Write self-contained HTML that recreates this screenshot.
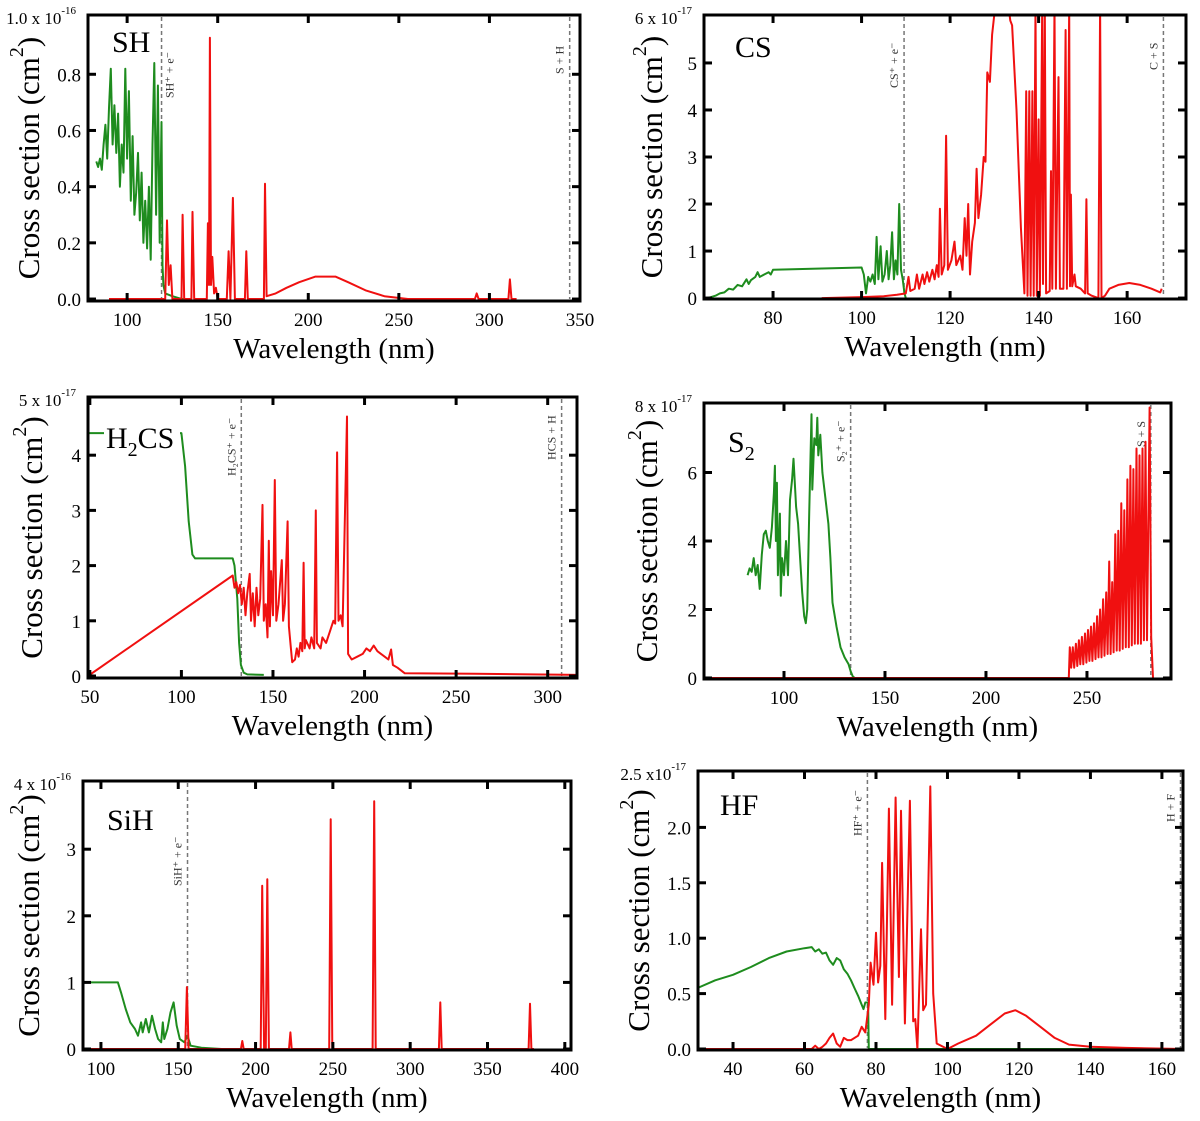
<!DOCTYPE html>
<html><head><meta charset="utf-8"><style>
html,body{margin:0;padding:0;background:#fff;}
svg{display:block;font-family:"Liberation Serif",serif;}
</style></head>
<body>
<svg id="fig" width="1200" height="1121" viewBox="0 0 1200 1121" xmlns="http://www.w3.org/2000/svg">
<defs id="defs"></defs>
</svg>
<script>
// ---------- data (wavelength nm, cross section) ----------
const shXTicks=[100,150,200,250,300,350];
const shYTicks=[0,0.2,0.4,0.6,0.8];
const shYLabels=["0.0","0.2","0.4","0.6","0.8"];
const shGreen=[[83,0.49],[84,0.47],[85,0.5],[86,0.46],[87,0.55],[88,0.62],[89,0.5],[90,0.68],[91,0.82],[92,0.55],[93,0.69],[94,0.52],[95,0.66],[96,0.4],[97,0.55],[98,0.45],[99,0.82],[100,0.5],[101,0.74],[102,0.35],[103,0.58],[104,0.3],[105,0.38],[106,0.52],[107,0.28],[108,0.45],[109,0.2],[110,0.35],[111,0.18],[112,0.4],[113,0.14],[114,0.55],[115,0.84],[116,0.3],[117,0.76],[118,0.2],[119,0.63],[119.5,0.12],[120,0.05],[121,0.02],[125,0.01],[130,0],[135,0]];
const shRed=[[90,0],[121,0],[122,0.28],[123,0.05],[124,0.12],[125,0],[130,0],[130.6,0.3],[131.5,0],[135.5,0],[136.1,0.31],[137,0],[144,0],[144.6,0.27],[145.2,0.05],[145.7,0.93],[146.3,0.05],[147,0.15],[148,0.02],[149,0.04],[150,0],[155,0],[156,0.17],[157,0],[158.4,0.36],[159.5,0],[165,0],[165.8,0.17],[166.6,0],[175.5,0],[176.1,0.41],[177,0.01],[182,0.02],[188,0.04],[195,0.06],[204,0.08],[215,0.08],[222,0.06],[232,0.03],[242,0.01],[255,0],[292,0],[293,0.02],[294,0],[310.5,0],[311.3,0.07],[312.2,0],[315,0]];

const csXTicks=[80,100,120,140,160];
const csYTicks=[0,1,2,3,4,5];
const csYLabels=["0","1","2","3","4","5"];
const csGreen=[[65,0],[66,0.02],[67,0.05],[68,0.1],[69,0.12],[70,0.2],[71,0.18],[72,0.28],[73,0.25],[74,0.4],[74.5,0.3],[75,0.38],[76,0.45],[76.5,0.55],[77,0.45],[78,0.5],[79,0.55],[79.5,0.5],[80,0.6],[100,0.65],[100.5,0.5],[101,0.1],[101.5,0.45],[102,0.35],[102.5,0.5],[103,0.3],[103.4,1.3],[103.8,0.4],[104.3,1.1],[104.7,0.35],[105.2,0.5],[105.7,1.0],[106.1,0.4],[106.5,0.7],[106.9,1.4],[107.3,0.4],[107.7,0.8],[108.1,0.5],[108.5,2.0],[108.9,0.6],[109.3,0.4],[109.7,0.1],[110,0]];
const csRed=[[91,0],[100,0.02],[105,0.04],[108,0.07],[110,0.1],[110.6,0.45],[111,0.15],[112,0.2],[112.5,0.5],[113,0.2],[113.8,0.5],[114.2,0.3],[114.8,0.55],[115.3,0.35],[116,0.6],[116.5,0.4],[117,0.7],[117.4,0.45],[117.7,1.9],[118.1,0.5],[118.7,0.7],[119.1,3.45],[119.5,0.6],[120.3,0.8],[121,1.2],[121.4,0.7],[122.3,0.9],[122.8,0.6],[123.3,1.7],[123.7,0.9],[124.1,2.0],[124.5,0.5],[125,1.2],[125.6,1.6],[126,2.75],[126.4,1.7],[127,2.2],[127.6,3.0],[128,2.9],[128.4,4.8],[129,4.6],[129.5,5.6],[130.2,6.2],[133.2,6.2],[133.6,5.9],[134,5.8],[135,4.0],[136,1.5],[136.8,0.1],[137.2,4.4],[137.5,0.05],[137.9,4.4],[138.2,0.05],[138.6,4.4],[138.9,0.05],[139.3,6.2],[139.6,0.05],[140,3.8],[140.3,0.05],[140.8,6.2],[141,0.3],[141.4,6.2],[141.7,0.1],[142.5,0.15],[142.8,2.7],[143.1,0.2],[143.6,6.2],[143.9,0.2],[144.5,4.7],[144.8,0.2],[145.6,0.2],[146.1,5.7],[146.4,0.2],[146.9,6.2],[147.1,0.25],[147.3,2.2],[147.6,0.25],[148.1,0.5],[148.4,0.25],[149.5,0.2],[150.5,0.1],[150.8,2.1],[151.1,0.1],[152,0.05],[153.5,0],[153.9,6.2],[154.2,0],[155,0.05],[156,0.2],[158,0.28],[160.5,0.32],[163,0.28],[165.5,0.2],[167.5,0.12],[167.8,0.2]];

const h2XTicks=[50,100,150,200,250,300];
const h2YTicks=[0,1,2,3,4];
const h2YLabels=["0","1","2","3","4"];
const h2Green=[[49,4.4],[100,4.4],[102,3.8],[104,2.8],[106,2.2],[107.5,2.13],[128,2.13],[129,2.0],[130.5,1.4],[131.5,0.6],[132.5,0.2],[134,0.06],[136,0.03],[145,0.02]];
const h2Red=[[49,0],[128,1.82],[129,1.6],[130,1.7],[131,1.5],[132,1.65],[133,1.3],[134,1.6],[135,1.1],[136,1.5],[137.3,1.85],[138,1.0],[139,1.5],[140,0.9],[141,1.6],[142,1.1],[143,1.4],[144.3,3.1],[145,1.0],[146,1.3],[147,0.7],[147.7,2.45],[148.3,0.9],[149,1.9],[150,1.1],[151,3.55],[151.8,1.0],[153,1.3],[154.8,2.1],[155.5,1.0],[156.5,1.3],[158,2.8],[158.7,0.9],[159.5,0.6],[160.5,0.25],[162,0.3],[163,0.5],[164,0.35],[165,0.6],[166,0.45],[166.7,2.05],[167.3,0.5],[168,0.65],[170,0.5],[171,0.7],[172.5,0.5],[173.4,3.0],[174,0.6],[176,0.5],[177,0.7],[179,0.6],[181,0.8],[183,1.0],[184,0.95],[185,4.05],[185.8,1.0],[187,1.1],[188,0.9],[190.4,4.7],[191,0.4],[193,0.3],[196,0.35],[199,0.4],[201,0.5],[203,0.45],[205,0.55],[207,0.45],[209,0.4],[211,0.35],[213,0.3],[214.5,0.48],[215.5,0.2],[218,0.15],[222,0.05],[260,0.04],[316,0.02]];

const s2XTicks=[100,150,200,250];
const s2YTicks=[0,2,4,6];
const s2YLabels=["0","2","4","6"];
const s2Green=[[82,3.0],[83,3.2],[84,3.1],[85,3.5],[86,3.0],[87,3.3],[88,2.6],[89,3.6],[90,4.2],[91,4.3],[92,4.0],[93,3.8],[94,4.4],[95,5.4],[95.5,6.2],[96,4.0],[96.5,5.7],[97,3.0],[98,4.8],[98.4,2.4],[99,3.5],[100,3.0],[101,4.0],[102,3.0],[103,5.2],[104,5.8],[104.7,6.4],[106,5.0],[107,4.5],[108,3.5],[109,2.5],[110,1.8],[110.8,1.6],[111.5,2.0],[112.5,4.8],[113.6,7.7],[114,5.5],[115,7.0],[116,6.8],[116.5,7.6],[117,6.5],[118,7.1],[119,6.0],[120,5.5],[121,5.0],[122,4.5],[123,3.5],[124,2.2],[126,1.5],[128,0.9],[130,0.6],[132,0.4],[133,0.2],[134,0.05],[135,0]];
const s2Red=[[60,0],[241,0],[241.5,0.9],[242.2,0.3],[243,0.9],[243.7,0.3],[244.5,1.0],[245.2,0.35],[246,1.1],[246.7,0.4],[247.5,1.2],[248.2,0.4],[249,1.3],[249.7,0.45],[250.5,1.4],[251.2,0.5],[252,1.5],[252.7,0.5],[253.5,1.6],[254.2,0.55],[255,1.8],[255.7,0.6],[256.5,2.0],[257.2,0.6],[258,2.3],[258.7,0.65],[259.5,2.5],[260.2,0.7],[261,3.4],[261.7,0.7],[262.5,2.8],[263.2,0.75],[264,4.2],[264.7,0.8],[265.5,4.3],[266.2,0.8],[267,5.1],[267.7,0.85],[268.5,4.9],[269.2,0.9],[270,5.8],[270.7,0.9],[271.5,6.2],[272.2,0.95],[273,6.1],[273.7,1.0],[274.5,6.7],[275.2,1.0],[276,6.5],[276.7,1.0],[277.5,6.7],[278.2,1.1],[279,6.9],[279.7,1.1],[281,7.9],[281.8,1.2],[282.7,0]];

const siXTicks=[100,150,200,250,300,350,400];
const siYTicks=[0,1,2,3];
const siYLabels=["0","1","2","3"];
const siGreen=[[88,1.0],[111,1.0],[113,0.85],[116,0.6],[119,0.4],[122,0.3],[124,0.2],[126,0.4],[127,0.25],[129,0.45],[131,0.25],[133,0.5],[135,0.3],[137,0.15],[139,0.1],[140,0.4],[141,0.15],[143,0.3],[145,0.55],[147,0.7],[149,0.35],[151,0.15],[154,0.1],[156,0.2],[158,0.05],[165,0.02],[178,0]];
const siRed=[[90,0],[154.5,0],[155.6,0.93],[156.7,0],[190.5,0],[191.4,0.12],[192.3,0],[203.3,0],[204.3,2.45],[205.5,0],[206.6,0],[207.6,2.55],[208.6,0],[221.6,0],[222.5,0.25],[223.4,0],[247.6,0],[248.6,3.45],[249.6,0],[275.7,0],[276.7,3.72],[277.7,0],[318.6,0],[319.5,0.7],[320.4,0],[376.6,0],[377.5,0.68],[378.4,0],[380,0]];

const hfXTicks=[40,60,80,100,120,140,160];
const hfYTicks=[0,0.5,1.0,1.5,2.0];
const hfYLabels=["0.0","0.5","1.0","1.5","2.0"];
const hfGreen=[[30,0.55],[35,0.62],[40,0.67],[45,0.74],[50,0.82],[55,0.88],[60,0.91],[62,0.92],[63,0.88],[64,0.9],[65,0.86],[66,0.87],[67,0.8],[68,0.76],[69,0.82],[70,0.8],[71,0.72],[72,0.68],[73,0.62],[74,0.55],[75,0.48],[76,0.4],[76.5,0.36],[77,0.42],[77.8,0.42],[78,0],[165.9,0]];
const hfRed=[[30,0],[62,0],[63,0.03],[64,0],[65,0.02],[66,0.05],[67,0.1],[68,0.14],[69,0.05],[70,0.02],[71,0.1],[72,0.08],[73,0.08],[75,0.12],[76,0.2],[77,0.15],[78,0.4],[78.5,0.78],[79.3,0.58],[80,1.05],[80.6,0.6],[81.2,0.75],[81.7,1.68],[82.6,0.27],[83.6,2.17],[84.5,0.4],[85.5,2.27],[86.4,0.65],[87,2.15],[88.1,0.23],[89.5,2.24],[90.4,0.25],[91,0.27],[91.6,0],[92.6,1.08],[93.2,0.35],[94,0.4],[95.2,2.37],[96,0.5],[97,0.05],[100,0],[103,0.05],[108,0.12],[112,0.22],[116,0.32],[119,0.35],[122,0.3],[126,0.2],[130,0.1],[134,0.04],[140,0.02],[150,0.01],[165.9,0]];

// ---------- rendering ----------
const NS="http://www.w3.org/2000/svg";
const svg=document.getElementById('fig');
const defs=document.getElementById('defs');
const GREEN="#1e8c1e", RED="#f01010";
function mk(tag,attrs,parent){const e=document.createElementNS(NS,tag);for(const k in attrs)e.setAttribute(k,attrs[k]);(parent||svg).appendChild(e);return e;}

const panels=[
 {id:'sh',L:88,R:580,T:15,B:301,xmin:78.4,xmax:350,ymin:-0.007,ymax:1.011,xt:shXTicks,yt:shYTicks,yl:shYLabels,top:'1.0 x 10',exp:'-16',green:shGreen,red:shRed,
  mol:'SH',molX:112,molY:52,dash:[{x:119,t:'SH⁺ + e⁻',side:1,ty:98},{x:344.3,t:'S + H',side:-1,ty:74}],ytx:32},
 {id:'cs',L:704,R:1186,T:15,B:299,xmin:64.4,xmax:173.3,ymin:-0.02,ymax:6.02,xt:csXTicks,yt:csYTicks,yl:csYLabels,top:'6 x 10',exp:'-17',green:csGreen,red:csRed,
  mol:'CS',molX:735,molY:57,dash:[{x:109.6,t:'CS⁺ + e⁻',side:-1,ty:88},{x:168.2,t:'C + S',side:-1,ty:70}],ytx:655},
 {id:'h2cs',L:88,R:577,T:397,B:678,xmin:49,xmax:316,ymin:-0.036,ymax:5.054,xt:h2XTicks,yt:h2YTicks,yl:h2YLabels,top:'5 x 10',exp:'-17',green:h2Green,red:h2Red,
  mol:'H2CS',molX:106,molY:448,dash:[{x:132.7,t:'H₂CS⁺ + e⁻',side:-1,ty:476},{x:307.6,t:'HCS + H',side:-1,ty:460}],ytx:35},
 {id:'s2',L:704,R:1171,T:403,B:679,xmin:60.4,xmax:291.6,ymin:-0.03,ymax:8.03,xt:s2XTicks,yt:s2YTicks,yl:s2YLabels,top:'8 x 10',exp:'-17',green:s2Green,red:s2Red,
  mol:'S2',molX:728,molY:452,dash:[{x:133,t:'S₂⁺ + e⁻',side:-1,ty:462},{x:281.6,t:'S + S',side:-1,ty:447}],ytx:650},
 {id:'sih',L:83,R:571,T:781,B:1050,xmin:88.4,xmax:404,ymin:-0.015,ymax:4.024,xt:siXTicks,yt:siYTicks,yl:siYLabels,top:'4 x 10',exp:'-16',green:siGreen,red:siRed,
  mol:'SiH',molX:107,molY:830,dash:[{x:156,t:'SiH⁺ + e⁻',side:-1,ty:886}],ytx:32},
 {id:'hf',L:698,R:1183,T:771,B:1050,xmin:30.2,xmax:165.9,ymin:-0.009,ymax:2.509,xt:hfXTicks,yt:hfYTicks,yl:hfYLabels,top:'2.5 x10',exp:'-17',green:hfGreen,red:hfRed,
  mol:'HF',molX:720,molY:815,dash:[{x:77.6,t:'HF⁺ + e⁻',side:-1,ty:836},{x:165.2,t:'H + F',side:-1,ty:822}],ytx:642}
];

panels.forEach(p=>{
  const g=mk('g',{});
  
  
  const sx=v=>p.L+(v-p.xmin)/(p.xmax-p.xmin)*(p.R-p.L);
  const sy=v=>p.B-(v-p.ymin)/(p.ymax-p.ymin)*(p.B-p.T);
  const cp=mk('clipPath',{id:'clip-'+p.id},defs);
  mk('rect',{x:p.L,y:p.T,width:p.R-p.L,height:p.B-p.T},cp);

  // dashed dissociation/ionisation lines
  p.dash.forEach(d=>{
    const X=sx(d.x);
    const ln=mk('line',{x1:X,x2:X,y1:p.T+2,y2:p.B-2,stroke:'#777','stroke-width':1.5,'stroke-dasharray':'4,3'},g);
    
    
    const tx=X+(d.side>0?12:-6);
    const t=mk('text',{x:tx,y:d.ty,'font-size':12,fill:'#333',transform:`rotate(-90 ${tx} ${d.ty})`},g);
    t.textContent=d.t;
    
    
  });

  // series
  const path=pts=>pts.map((q,i)=>(i?'L':'M')+sx(q[0]).toFixed(1)+','+sy(q[1]).toFixed(1)).join('');
  const gr=mk('path',{d:path(p.green),fill:'none',stroke:GREEN,'stroke-width':2,'stroke-linejoin':'round','clip-path':`url(#clip-${p.id})`},g);
  
  
  const rd=mk('path',{d:path(p.red),fill:'none',stroke:RED,'stroke-width':2,'stroke-linejoin':'round','clip-path':`url(#clip-${p.id})`},g);
  
  

  // frame
  const fr=mk('rect',{x:p.L,y:p.T,width:p.R-p.L,height:p.B-p.T,fill:'none',stroke:'#000','stroke-width':3},g);
  
  

  // x ticks
  p.xt.forEach(v=>{
    const X=sx(v);
    mk('line',{x1:X,x2:X,y1:p.B,y2:p.B-8,stroke:'#000','stroke-width':3},g);
    mk('line',{x1:X,x2:X,y1:p.T,y2:p.T+8,stroke:'#000','stroke-width':3},g);
    const t=mk('text',{x:X,y:p.B+25,'font-size':19,'text-anchor':'middle'},g);
    t.textContent=String(v);
    
    
  });
  // y ticks
  p.yt.forEach((v,i)=>{
    const Y=sy(v);
    mk('line',{x1:p.L,x2:p.L+8,y1:Y,y2:Y,stroke:'#000','stroke-width':3},g);
    mk('line',{x1:p.R,x2:p.R-8,y1:Y,y2:Y,stroke:'#000','stroke-width':3},g);
    const t=mk('text',{x:p.L-7,y:Y+7,'font-size':19,'text-anchor':'end'},g);
    t.textContent=p.yl[i];
    
    
  });
  // top scale label
  const tl=mk('text',{x:p.L-12,y:p.T+9,'font-size':17,'text-anchor':'end'},g);
  
  
  tl.appendChild(document.createTextNode(p.top));
  const ex=mk('tspan',{dy:-10,'font-size':11},tl);
  ex.textContent=p.exp;

  // axis titles
  const cy=(p.T+p.B)/2, cx=(p.L+p.R)/2;
  const yt=mk('text',{x:p.ytx,y:cy,'font-size':31,'text-anchor':'middle',transform:`rotate(-90 ${p.ytx} ${cy})`,'dominant-baseline':'middle'},g);
  
  
  yt.appendChild(document.createTextNode('Cross section (cm'));
  const s2=mk('tspan',{dy:-14,'font-size':20},yt); s2.textContent='2';
  const s3=mk('tspan',{dy:14},yt); s3.textContent=')';
  const xt=mk('text',{x:cx,y:p.B+57,'font-size':29,'text-anchor':'middle'},g);
  xt.textContent='Wavelength (nm)';
  
  

  // molecule label
  const ml=mk('text',{x:p.molX,y:p.molY,'font-size':30},g);
  
  
  if(p.mol==='H2CS'){
    const bb=mk('rect',{x:p.molX-2,y:p.molY-28,width:76,height:38,fill:'#fff'},g);
    g.insertBefore(bb,ml);
    ml.appendChild(document.createTextNode('H'));
    const a=mk('tspan',{dy:8,'font-size':20},ml);a.textContent='2';
    const b=mk('tspan',{dy:-8},ml);b.textContent='CS';
  } else if(p.mol==='S2'){
    ml.appendChild(document.createTextNode('S'));
    const a=mk('tspan',{dy:8,'font-size':20},ml);a.textContent='2';
  } else ml.textContent=p.mol;
});
</script>
</body></html>
